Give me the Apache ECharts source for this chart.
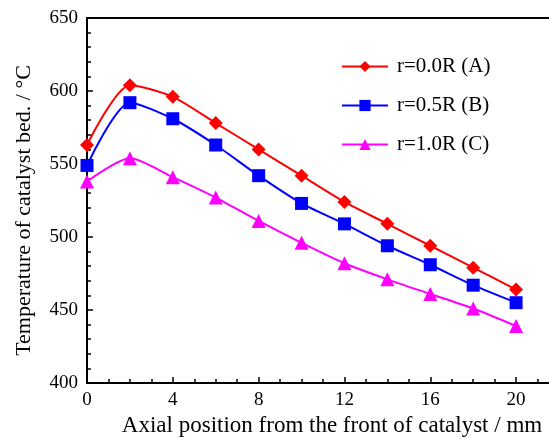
<!DOCTYPE html>
<html>
<head>
<meta charset="utf-8">
<script src="https://cdn.jsdelivr.net/npm/echarts@6/dist/echarts.min.js"></script>
<style>html,body{margin:0;padding:0;background:#fff}#c{width:549px;height:438px}</style>
</head>
<body>
<div id="c"></div>
<script>
const positions = [0, 2, 4, 6, 8, 10, 12, 14, 16, 18, 20];
const seriesA = [563, 604, 596, 578, 560, 542, 524, 509, 494, 479, 464];
const seriesB = [549, 592, 581, 563, 542, 523, 509, 494, 481, 467, 455];
const seriesC = [538, 554, 541, 527, 511, 496, 482, 471, 461, 451, 439];
const seriesNames = ['r=0.0R (A)', 'r=0.5R (B)', 'r=1.0R (C)'];
const xTitle = 'Axial position from the front of catalyst / mm';
const yTitle = 'Temperature of catalyst bed. / \u00B0C';

const font = 'Liberation Serif';
const chart = echarts.init(document.getElementById('c'), null, {renderer: 'canvas'});
function pairs(vals) { return positions.map((x, i) => [x, vals[i]]); }
function mkSeries(name, vals, color, symbol, size) {
  return {
    name: name, type: 'line', data: pairs(vals), smooth: 0.25,
    symbol: symbol, symbolSize: size, showSymbol: true,
    lineStyle: {color: color, width: 2},
    itemStyle: {color: color},
    emphasis: {disabled: true}, animation: false
  };
}
chart.setOption({
  animation: false,
  grid: {left: 87, top: 18, right: -10, bottom: 55, outerBoundsMode: 'none', containLabel: false},
  legend: {
    orient: 'vertical', left: 336, top: 51, itemWidth: 46, itemHeight: 14, itemGap: 18,
    textStyle: {fontFamily: font, fontSize: 21, color: '#000', lineHeight: 20, padding: [0, 0, 0, 4]},
    data: seriesNames
  },
  xAxis: [{
    type: 'value', min: 0, max: 22, interval: 4,
    name: xTitle, nameLocation: 'middle', nameGap: 30,
    nameTextStyle: {fontFamily: font, fontSize: 23, color: '#000', padding: [0, 0, 0, 18]},
    axisLine: {lineStyle: {color: '#000', width: 2}},
    axisTick: {inside: true, length: 6, lineStyle: {color: '#000', width: 1.5}},
    minorTick: {show: true, splitNumber: 4, length: 4, lineStyle: {color: '#000', width: 1.5}},
    axisLabel: {fontFamily: font, fontSize: 19, color: '#000', margin: 8,
      formatter: v => (v > 20 ? '' : String(v))},
    splitLine: {show: false}
  }, {
    type: 'value', min: 0, max: 22, position: 'top',
    axisLine: {show: true, lineStyle: {color: '#000', width: 2}},
    axisTick: {show: false}, axisLabel: {show: false}, splitLine: {show: false}
  }],
  yAxis: {
    type: 'value', min: 400, max: 650, interval: 50,
    name: yTitle, nameLocation: 'middle', nameGap: 52,
    nameTextStyle: {fontFamily: font, fontSize: 22, color: '#000', padding: [0, 20, 0, 0]},
    axisLine: {show: true, lineStyle: {color: '#000', width: 2}},
    axisTick: {show: true, inside: true, length: 6, lineStyle: {color: '#000', width: 1.5}},
    minorTick: {show: true, splitNumber: 5, length: 4, lineStyle: {color: '#000', width: 1.5}},
    axisLabel: {fontFamily: font, fontSize: 19, color: '#000', margin: 9},
    splitLine: {show: false}
  },
  series: [
    mkSeries(seriesNames[0], seriesA, '#ff0000', 'diamond', 14),
    mkSeries(seriesNames[1], seriesB, '#0000ff', 'rect', 13),
    mkSeries(seriesNames[2], seriesC, '#ff00ff', 'triangle', 14)
  ]
});
</script>
</body>
</html>
